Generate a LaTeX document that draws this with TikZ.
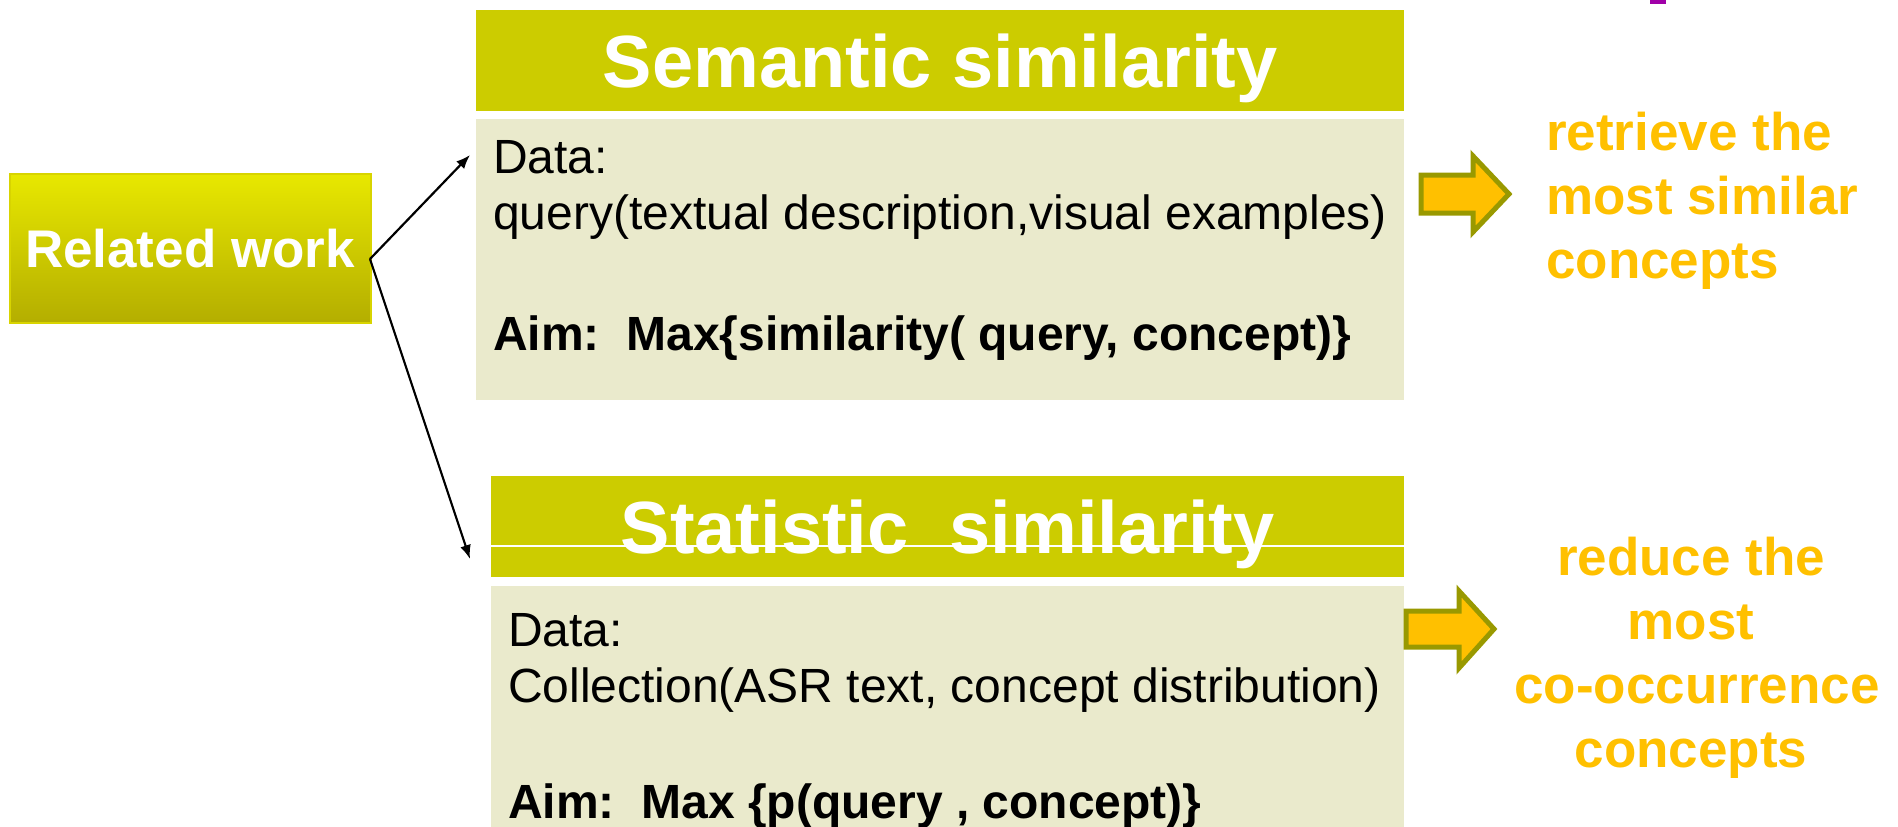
\documentclass[tikz,border=0pt]{standalone}
\usepackage{fontspec}
\setmainfont{Liberation Sans}
\usetikzlibrary{arrows.meta}
\definecolor{hdrc}{RGB}{204,204,0}
\definecolor{bodyc}{RGB}{234,234,204}
\definecolor{reltop}{RGB}{232,232,0}
\definecolor{relbot}{RGB}{180,174,0}
\definecolor{relborder}{RGB}{216,212,0}
\definecolor{orangec}{RGB}{255,192,0}
\definecolor{olivec}{RGB}{153,153,0}
\definecolor{purplec}{RGB}{160,0,168}
\begin{document}
\begin{tikzpicture}[x=1pt,y=-1pt,
  hdr/.style={fill=hdrc, draw=none, text=white, anchor=north west, inner sep=0pt,
    font=\fontsize{74}{80}\selectfont\bfseries, text height=53pt, text depth=0pt, minimum height=101pt},
  bodybox/.style={fill=bodyc, draw=none, anchor=north west, inner sep=0pt},
  bodytxt/.style={anchor=base west, inner sep=0pt, font=\fontsize{48}{56}\selectfont},
  bodybold/.style={bodytxt, font=\fontsize{48}{56}\selectfont\bfseries},
  reltxt/.style={text=orangec, inner sep=0pt, font=\fontsize{53}{64}\selectfont\bfseries},
  relbox/.style={top color=reltop, bottom color=relbot, draw=relborder, line width=2pt,
    text=white, inner sep=0pt, font=\fontsize{53}{60}\selectfont\bfseries, text height=38pt, text depth=0pt},
  conn/.style={line width=2.2pt, -{Latex[length=14pt,width=11pt]}},
  blockarrow/.style={fill=orangec, draw=olivec, line width=5pt, line join=miter}
]
\useasboundingbox (0,0) rectangle (1898,827);

% purple mark
\fill[purplec] (1650,0) rectangle (1666,4);

% Related work
\node[relbox, minimum width=361pt, minimum height=149pt] (rel) at (190,248) {Related work};

% Semantic similarity
\node[hdr, minimum width=928pt] (semh) at (476,10) {Semantic similarity};
\node[bodybox, minimum width=928pt, minimum height=281pt] (semb) at (476,119) {};
\node[bodytxt] (semd) at (493,173) {Data:};
\node[bodytxt] (semq) at (493,229) {query(textual description,visual examples)};
\node[bodybold] (sema) at (493,350) {Aim:\ \ Max\{similarity( query, concept)\}};

% Statistic similarity
\node[hdr, minimum width=913pt] (sth) at (491,476) {Statistic\ \ similarity};
\draw[white, line width=2pt] (sth.west |- 0,546) -- (sth.east |- 0,546);
\node[bodybox, minimum width=913pt, minimum height=243pt] (stb) at (491,586) {};
\node[bodytxt] (std) at (508,646) {Data:};
\node[bodytxt] (stc) at (508,702) {Collection(ASR text, concept distribution)};
\node[bodybold] (sta) at (508,818) {Aim:\ \ Max \{p(query , concept)\}};

% connectors
\coordinate (src) at (370,259);
\coordinate (t1) at (470,155);
\coordinate (t2) at (470,559);
\draw[conn] (src) -- (t1);
\draw[conn] (src) -- (t2);

% block arrows
\draw[blockarrow] (1421,175) -- (1473,175) -- (1473,156) -- (1509,194) -- (1473,232) -- (1473,213) -- (1421,213) -- cycle;
\draw[blockarrow] (1406,611) -- (1459,611) -- (1459,591) -- (1494,629) -- (1459,668) -- (1459,647) -- (1406,647) -- cycle;

% right texts
\node[reltxt, anchor=base west] (r1) at (1546,150) {retrieve the};
\node[reltxt, anchor=base west] (r2) at (1546,214) {most similar};
\node[reltxt, anchor=base west] (r3) at (1546,278) {concepts};

\node[reltxt, anchor=base] (s1) at (1691,575) {reduce the};
\node[reltxt, anchor=base] (s2) at (1691,639) {most};
\node[reltxt, anchor=base] (s3) at (1697,703) {co-occurrence};
\node[reltxt, anchor=base] (s4) at (1691,767) {concepts};
\end{tikzpicture}
\end{document}
